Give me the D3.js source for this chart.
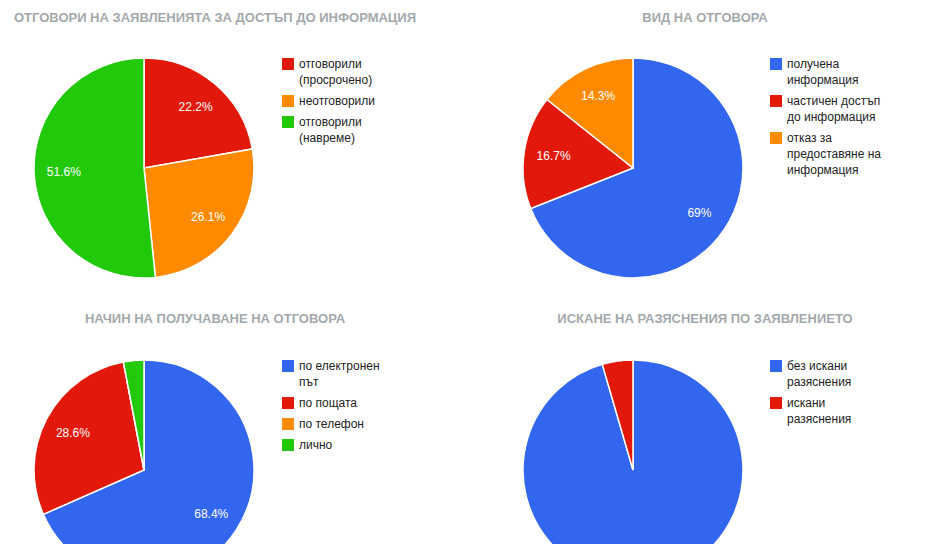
<!DOCTYPE html><html><head><meta charset="utf-8"><script src="https://cdn.jsdelivr.net/npm/d3@7"></script>
<style>body{margin:0;background:#fff}</style></head><body><svg id="c" width="925" height="544"></svg><script>
const titles=["ОТГОВОРИ НА ЗАЯВЛЕНИЯТА ЗА ДОСТЪП ДО ИНФОРМАЦИЯ","ВИД НА ОТГОВОРА","НАЧИН НА ПОЛУЧАВАНЕ НА ОТГОВОРА","ИСКАНЕ НА РАЗЯСНЕНИЯ ПО ЗАЯВЛЕНИЕТО"];
const labels1=[["отговорили","(просрочено)"],["неотговорили"],["отговорили","(навреме)"]];
const values1=[22.2,26.1,51.6];
const labels2=[["получена","информация"],["частичен достъп","до информация"],["отказ за","предоставяне на","информация"]];
const values2=[69,16.7,14.3];
const labels3=[["по електронен","път"],["по пощата"],["по телефон"],["лично"]];
const values3=[68.4,28.6,0,3.0];
const labels4=[["без искани","разяснения"],["искани","разяснения"]];
const values4=[95.5,4.5];
const RED="#e2180a",ORANGE="#ff8a00",GREEN="#22c80a",BLUE="#3366ee";
const colors=[[RED,ORANGE,GREEN],[BLUE,RED,ORANGE],[BLUE,RED,ORANGE,GREEN],[BLUE,RED]];
const charts=[[labels1,values1],[labels2,values2],[labels3,values3],[labels4,values4]];
const svg=d3.select("#c");
const ff="Arial, 'Liberation Sans', sans-serif";
const R=110;
charts.forEach(([labs,vals],i)=>{
  const cx=i%2?633:144, cy=i<2?168:470, tx=i%2?705:215, ty=i<2?22:323;
  svg.append("text").attr("x",tx).attr("y",ty).attr("text-anchor","middle").attr("font-family",ff).attr("font-size",13).attr("font-weight","bold").attr("fill","#a3a9ab").text(titles[i]);
  const g=svg.append("g").attr("transform",`translate(${cx},${cy})`);
  const arcs=d3.pie().sort(null).value(d=>d)(vals);
  const arc=d3.arc().innerRadius(0).outerRadius(R);
  const la=d3.arc().innerRadius(R*0.73).outerRadius(R*0.73);
  g.selectAll("path").data(arcs).join("path").attr("d",arc).attr("fill",(d,j)=>colors[i][j]).attr("stroke","#fff").attr("stroke-width",1.5);
  g.selectAll("text").data(arcs.filter(d=>d.value>=10 && cy+la.centroid(d)[1]<535)).join("text").attr("transform",d=>`translate(${la.centroid(d)})`).attr("dy","0.35em").attr("text-anchor","middle").attr("font-family",ff).attr("font-size",12).attr("fill","#fff").text(d=>(+d.value.toFixed(1))+"%");
  const lx=i%2?770:282; let ly=cy-R;
  labs.forEach((l,j)=>{
    svg.append("rect").attr("x",lx).attr("y",ly).attr("width",12).attr("height",12).attr("fill",colors[i][j]);
    l.forEach((t,k)=>svg.append("text").attr("x",lx+17).attr("y",ly+10+k*16).attr("font-family",ff).attr("font-size",12).attr("fill","#222").text(t));
    ly+=l.length*16+5;
  });
});
</script></body></html>
